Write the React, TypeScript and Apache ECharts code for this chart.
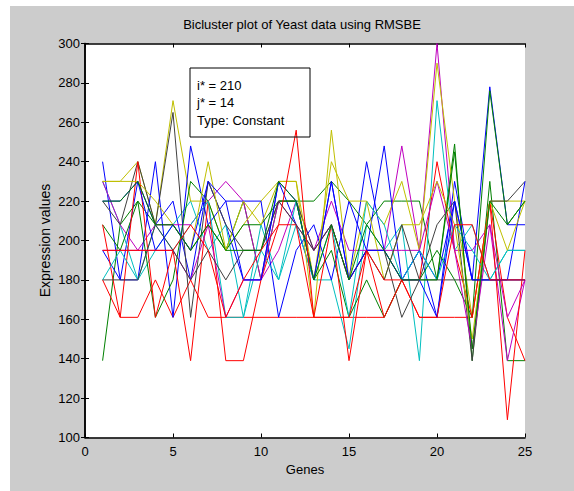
import React, { useEffect, useRef } from "react";
import * as echarts from "echarts";

const genes = [1, 2, 3, 4, 5, 6, 7, 8, 9, 10, 11, 12, 13, 14, 15, 16, 17, 18, 19, 20, 21, 22, 23, 24, 25];

const titleText = "Bicluster plot of Yeast data using RMSBE";
const xName = "Genes";
const yName = "Expression values";
const infoLines = ["i* = 210", "j* = 14", "Type: Constant"];

// MATLAB default colour cycle
const cBlue = "#0000ff";
const cGreen = "#008000";
const cRed = "#ff0000";
const cCyan = "#00bfbf";
const cMag = "#bf00bf";
const cYel = "#bfbf00";
const cGray = "#404040";

const s1 = [240, 180, 230, 208, 220, 180, 230, 208, 180, 180, 230, 208, 180, 230, 180, 240, 195, 180, 195, 161, 230, 180, 278, 208, 208];
const s2 = [139, 208, 220, 208, 208, 195, 208, 195, 220, 180, 220, 220, 220, 230, 220, 208, 220, 220, 220, 180, 249, 139, 230, 139, 139];
const s3 = [180, 161, 161, 180, 161, 180, 161, 161, 161, 161, 161, 161, 161, 161, 161, 161, 161, 180, 161, 161, 161, 161, 220, 161, 139];
const s4 = [230, 208, 180, 195, 208, 220, 195, 208, 161, 208, 180, 208, 180, 180, 145, 208, 195, 208, 139, 271, 195, 208, 180, 195, 195];
const s5 = [230, 208, 195, 208, 208, 208, 220, 230, 220, 180, 195, 220, 195, 220, 195, 195, 195, 248, 195, 300, 195, 195, 208, 139, 180];
const s6 = [230, 230, 240, 208, 271, 220, 220, 195, 208, 220, 230, 230, 161, 256, 180, 220, 208, 230, 195, 290, 220, 161, 220, 220, 220];
const s7 = [220, 208, 240, 208, 265, 161, 230, 208, 195, 195, 220, 220, 195, 208, 180, 195, 195, 161, 180, 208, 220, 139, 220, 220, 230];
const s8 = [195, 180, 180, 240, 161, 248, 208, 220, 220, 220, 161, 195, 208, 180, 220, 195, 248, 180, 195, 180, 220, 180, 180, 180, 230];
const s9 = [208, 195, 220, 161, 180, 230, 220, 195, 208, 208, 220, 220, 180, 195, 161, 180, 161, 180, 180, 195, 180, 161, 276, 208, 220];
const s10 = [208, 161, 240, 161, 195, 139, 220, 139, 139, 180, 208, 208, 161, 208, 139, 195, 161, 180, 180, 240, 195, 161, 220, 109, 195];
const s11 = [180, 195, 180, 208, 195, 208, 220, 161, 161, 195, 180, 220, 180, 208, 161, 220, 208, 180, 195, 180, 208, 195, 180, 195, 195];
const s12 = [195, 195, 195, 195, 195, 180, 208, 161, 180, 180, 220, 208, 195, 208, 180, 195, 195, 195, 195, 230, 195, 145, 208, 161, 180];
const s13 = [230, 230, 230, 220, 208, 195, 240, 195, 220, 208, 230, 230, 180, 240, 220, 220, 180, 208, 208, 230, 208, 150, 220, 195, 220];
const s14 = [180, 180, 180, 208, 195, 180, 195, 180, 195, 195, 220, 208, 195, 208, 180, 195, 180, 208, 180, 180, 180, 180, 180, 180, 180];
const s15 = [220, 220, 230, 195, 208, 195, 230, 220, 180, 180, 230, 220, 180, 230, 180, 195, 195, 180, 180, 161, 220, 180, 180, 180, 180];
const s16 = [220, 220, 230, 208, 208, 195, 208, 195, 195, 195, 230, 220, 180, 208, 180, 208, 195, 180, 180, 180, 245, 145, 220, 208, 220];
const s17 = [195, 195, 195, 195, 195, 208, 195, 161, 180, 195, 208, 256, 161, 161, 161, 195, 180, 180, 161, 161, 208, 208, 180, 180, 180];

const seriesValues = [s1, s2, s3, s4, s5, s6, s7, s8, s9, s10, s11, s12, s13, s14, s15, s16, s17];
const seriesColors = [cBlue, cGreen, cRed, cCyan, cMag, cYel, cGray, cBlue, cGreen, cRed, cCyan, cMag, cYel, cGray, cBlue, cGreen, cRed];

const FONT = "Liberation Sans, Arial, sans-serif";

export default function App() {
  const ref = useRef<HTMLDivElement>(null);
  useEffect(() => {
    document.body.style.margin = "0";
    if (!ref.current) return;
    const chart = echarts.init(ref.current, undefined, { renderer: "svg" });
    const axisLine = { show: true, lineStyle: { color: "#000", width: 1.5 } };
    const tick = { show: true, inside: true, length: 4, lineStyle: { color: "#000", width: 1 } };
    const label = { color: "#000", fontSize: 13, fontFamily: FONT, showMinLabel: true, showMaxLabel: true };
    chart.setOption({
      animation: false,
      backgroundColor: "transparent",
      textStyle: { fontFamily: FONT },
      grid: { left: 85, right: 49, top: 43.5, bottom: 53.5, show: true, backgroundColor: "#ffffff", borderWidth: 0, containLabel: false },
      xAxis: [
        {
          type: "value", min: 0, max: 25, interval: 5, position: "bottom",
          axisLine, axisTick: tick, splitLine: { show: false },
          axisLabel: { ...label, margin: 7 },
          name: xName, nameLocation: "middle", nameGap: 25, nameMoveOverlap: false,
          nameTextStyle: { color: "#000", fontSize: 13, fontFamily: FONT },
        },
        {
          type: "value", min: 0, max: 25, interval: 5, position: "top",
          axisLine, axisTick: tick, splitLine: { show: false }, axisLabel: { show: false },
        },
      ],
      yAxis: [
        {
          type: "value", min: 100, max: 300, interval: 20, position: "left",
          axisLine, axisTick: tick, splitLine: { show: false },
          axisLabel: { ...label, margin: 5 },
          name: yName, nameLocation: "middle", nameGap: 33, nameRotate: 90, nameMoveOverlap: false,
          nameTextStyle: { color: "#000", fontSize: 14, fontFamily: FONT },
        },
        {
          type: "value", min: 100, max: 300, interval: 20, position: "right",
          axisLine, axisTick: tick, splitLine: { show: false }, axisLabel: { show: false },
        },
      ],
      graphic: [
        {
          type: "text", x: 302, y: 24, z: 10,
          style: { text: titleText, fill: "#000", font: `13px ${FONT}`, textAlign: "center", textVerticalAlign: "middle" },
        },
        {
          type: "rect", x: 190, y: 68, z: 10,
          shape: { width: 120, height: 69 },
          style: { fill: "none", stroke: "#000", lineWidth: 1 },
        },
        ...infoLines.map((t, i) => ({
          type: "text", x: 197, y: 85 + i * 17.5, z: 10,
          style: { text: t, fill: "#000", font: `13px ${FONT}`, textAlign: "left", textVerticalAlign: "middle" },
        })),
      ],
      series: seriesValues.map((vals, k) => ({
        type: "line",
        xAxisIndex: 0,
        yAxisIndex: 0,
        data: genes.map((g, i) => [g, vals[i]]),
        symbol: "none",
        showSymbol: false,
        lineStyle: { width: 1, color: seriesColors[k] },
        itemStyle: { color: seriesColors[k] },
        emphasis: { disabled: true },
      })),
    });
    return () => chart.dispose();
  }, []);
  return (
    <div style={{ position: "relative", width: 574, height: 491, background: "#ffffff", overflow: "hidden" }}>
      <div style={{ position: "absolute", left: 10, top: 6, right: 0, bottom: 0, background: "#cccccc" }} />
      <div ref={ref} style={{ position: "absolute", left: 0, top: 0, width: 574, height: 491 }} />
    </div>
  );
}
